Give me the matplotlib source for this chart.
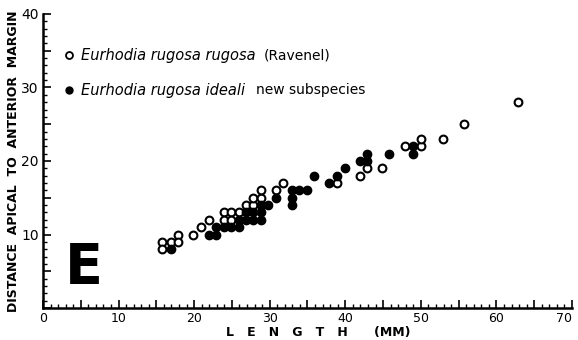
import matplotlib
matplotlib.use("Agg")
import matplotlib.pyplot as plt
from matplotlib.ticker import MultipleLocator, FuncFormatter
from matplotlib.transforms import offset_copy

# Eurhodia rugosa rugosa (open circles): length (mm), apical-to-anterior distance
rugosa_len = [15.8, 15.8, 16.9, 17.9, 17.9, 19.8, 20.9, 21.9, 23.9, 23.9,
              24.9, 24.9, 25.9, 26.9, 27.8, 27.8, 28.8, 28.8, 30.8, 31.8,
              38.9, 41.9, 42.9, 44.9, 47.9, 50.0, 50.0, 52.9, 55.7, 62.9]
rugosa_dist = [9.0, 8.0, 9.0, 10.0, 9.0, 10.0, 11.0, 12.0, 13.0, 12.0,
               13.0, 12.0, 13.0, 14.0, 14.0, 15.0, 15.0, 16.0, 16.0, 17.0,
               17.0, 18.0, 19.0, 19.0, 22.0, 22.0, 23.0, 23.0, 25.0, 28.0]

# Eurhodia rugosa ideali (filled circles)
ideali_len = [16.9, 21.9, 22.9, 22.9, 23.9, 24.9, 25.9, 25.9, 26.9, 26.9,
              27.8, 27.8, 28.8, 28.8, 28.8, 29.8, 30.8, 32.9, 32.9, 32.9,
              33.9, 34.9, 35.9, 37.9, 38.9, 39.9, 41.9, 42.9, 42.9, 45.8,
              48.9, 48.9]
ideali_dist = [8.0, 10.0, 10.0, 11.0, 11.0, 11.0, 12.0, 11.0, 12.0, 13.0,
               12.0, 13.0, 12.0, 13.0, 14.0, 14.0, 15.0, 14.0, 15.0, 16.0,
               16.0, 16.0, 18.0, 17.0, 18.0, 19.0, 20.0, 20.0, 21.0, 21.0,
               22.0, 21.0]

x_ticks = [0, 10, 20, 30, 40, 50, 60, 70]
y_ticks = [10, 20, 30, 40]

fig = plt.figure(figsize=(5.78, 3.40), dpi=100)
ax = fig.add_axes([0.0744, 0.094, 0.9152, 0.865])

ax.plot(rugosa_len, rugosa_dist, "o", ms=5.6, mfc="white", mec="black",
        mew=1.5, zorder=3)
ax.plot(ideali_len, ideali_dist, "o", ms=6.0, mfc="black", mec="black",
        mew=1.0, zorder=4)

ax.set_xlim(0, 70)
ax.set_ylim(0, 40)
for side in ["top", "right"]:
    ax.spines[side].set_visible(False)
for side in ["left", "bottom"]:
    ax.spines[side].set_linewidth(1.8)

# ticks every unit, longer every 5, numbers only on the tens
ax.xaxis.set_major_locator(MultipleLocator(5))
ax.xaxis.set_minor_locator(MultipleLocator(1))
ax.yaxis.set_major_locator(MultipleLocator(5))
ax.yaxis.set_minor_locator(MultipleLocator(1))
ax.xaxis.set_major_formatter(FuncFormatter(
    lambda v, p: f"{int(v)}" if int(round(v)) in x_ticks else ""))
ax.yaxis.set_major_formatter(FuncFormatter(
    lambda v, p: f"{int(v)}" if int(round(v)) in y_ticks else ""))
ax.tick_params(which="major", direction="in", length=6, width=1.2,
               labelsize=10)
ax.tick_params(axis="x", which="major", labelsize=9, pad=3)
ax.tick_params(axis="y", which="major", pad=3)
ax.tick_params(which="minor", direction="in", length=3, width=1.0)

fig.canvas.draw()
for t in ax.get_xticklabels():
    if t.get_text() == "70":
        t.set_horizontalalignment("right")
        t.set_x(70.6)

ax.set_xlabel("L   E   N   G   T   H      (MM)", fontsize=9,
              fontweight="bold")
ax.xaxis.set_label_coords(0.52, -0.062)
ax.set_ylabel("DISTANCE  APICAL  TO  ANTERIOR  MARGIN", fontsize=9,
              fontweight="bold")
ax.yaxis.set_label_coords(-0.044, 0.5)

# legend drawn by hand
ax.plot([3.4], [34.4], "o", ms=5, mfc="white", mec="black", mew=1.3,
        clip_on=False)
ax.plot([3.4], [29.6], "o", ms=5, mfc="black", mec="black", clip_on=False)

renderer = fig.canvas.get_renderer()


def label_pair(y, italic_part, plain_part, gap):
    t = ax.text(5.0, y, italic_part, style="italic", fontsize=10.5,
                va="center")
    bb = t.get_window_extent(renderer)
    x_end = ax.transData.inverted().transform((bb.x1, bb.y0))[0]
    trans = offset_copy(ax.transData, fig=fig, x=gap, y=0, units="dots")
    ax.text(x_end, y, plain_part, fontsize=10, va="center", transform=trans)


label_pair(34.4, "Eurhodia rugosa rugosa", "(Ravenel)", 8)
label_pair(29.6, "Eurhodia rugosa ideali", "new subspecies", 11)

ax.text(5.4, 5.5, "E", fontsize=40, fontweight="bold", ha="center",
        va="center")

fig.savefig("out.png", dpi=100, facecolor="white")
